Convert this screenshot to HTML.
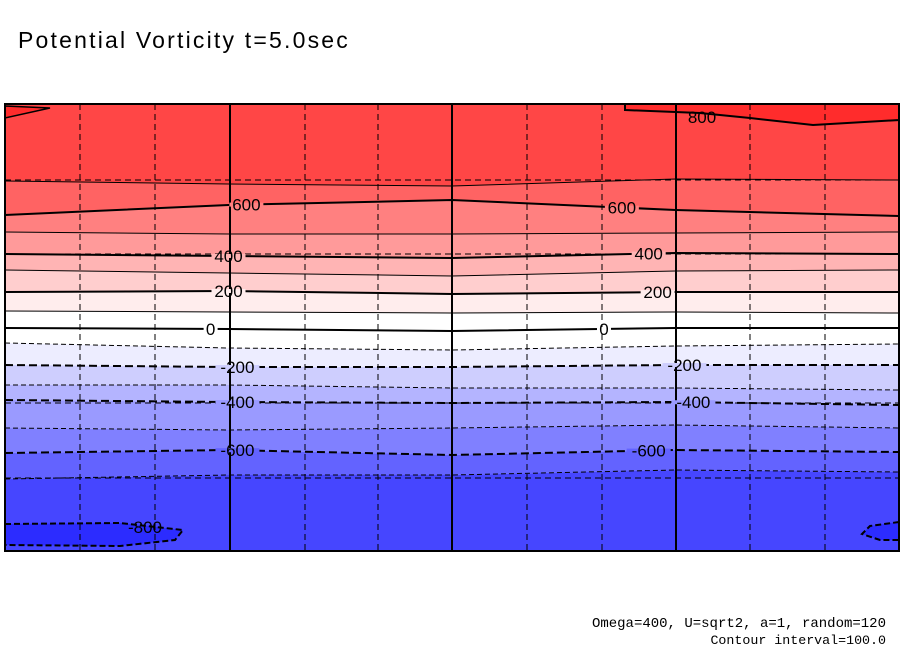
<!DOCTYPE html>
<html><head><meta charset="utf-8">
<style>
body{margin:0;background:#fff;width:904px;height:654px;overflow:hidden;font-family:"Liberation Sans",sans-serif;}
svg{position:absolute;left:0;top:0}
</style></head>
<body>
<svg id="chart" width="904" height="654">
<text x="18" y="48" font-family="Liberation Sans, sans-serif" font-size="23" letter-spacing="2.2" fill="#000">Potential Vorticity t=5.0sec</text>
<text x="886" y="627" text-anchor="end" font-family="Liberation Mono, monospace" font-size="14">Omega=400, U=sqrt2, a=1, random=120</text>
<text x="886" y="644" text-anchor="end" font-family="Liberation Mono, monospace" font-size="13.3">Contour interval=100.0</text>
</svg>
<script>
// contour levels and their y-positions (px) at sample longitudes
const levels = [700,600,500,400,300,200,100,0,-100,-200,-300,-400,-500,-600,-700];
const sampleX = [0,0.25,0.5,0.75,1];
const contourY = [
 [181,184,186,179,180],
 [215,205,200,210,216],
 [232,234,234,233,232],
 [254,256,258,253,254],
 [270,273,276,271,270],
 [292,291,294,292,292],
 [311,312,313,312,313],
 [328,329,331,328,328],
 [343,348,350,346,344],
 [365,367,367,365,365],
 [385,385,388,388,390],
 [400,402,403,402,405],
 [428,430,428,425,428],
 [453,450,455,450,452],
 [479,475,475,470,472]
];
const bandColors = ["#ff4646","#ff6363","#ff8080","#ff9a9a","#ffb4b4","#ffcece","#ffeded","#ffffff","#ffffff","#ededff","#cecefe","#b4b4ff","#9a9aff","#8080ff","#6363ff","#4646ff"];
const labelled = {600:0.27,400:0.25,200:0.25,0:0.23,"-200":0.26,"-400":0.26,"-600":0.26};
const labelled2 = {600:0.69,400:0.72,200:0.73,0:0.67,"-200":0.76,"-400":0.77,"-600":0.72};
const L=5,R=899,T=104,B=551;
const sx=f=>L+f*(R-L);
const svg=document.getElementById('chart');
const NS="http://www.w3.org/2000/svg";
function mk(t,a){const e=document.createElementNS(NS,t);for(const k in a)e.setAttribute(k,a[k]);return e;}
function pts(i){return sampleX.map((f,j)=>[sx(f),contourY[i][j]]);}
function yAt(i,f){for(let j=0;j<sampleX.length-1;j++){if(f<=sampleX[j+1]){const t=(f-sampleX[j])/(sampleX[j+1]-sampleX[j]);return contourY[i][j]+t*(contourY[i][j+1]-contourY[i][j]);}}return contourY[i][sampleX.length-1];}
const g=mk('g',{});svg.appendChild(g);
for(let b=0;b<=levels.length;b++){
  const top = b==0? sampleX.map(f=>[sx(f),T]) : pts(b-1);
  const bot = b==levels.length? sampleX.map(f=>[sx(f),B]) : pts(b);
  const poly=top.concat(bot.slice().reverse()).map(p=>p.join(',')).join(' ');
  const p=mk('polygon',{points:poly,fill:bandColors[b]});
  
  
  g.appendChild(p);
}
const r1=mk('path',{d:`M625 110 L700 113 L750 118 L813 125 L899 120 L899 104 L625 104 Z`,fill:'#ff2c2c',stroke:'#000','stroke-width':2});
g.appendChild(r1);
const r0=mk('path',{d:`M5 106 L50 108 L5 118 Z`,fill:'#ff2c2c',stroke:'#000','stroke-width':1.5});
g.appendChild(r0);
const r2=mk('path',{d:`M5 524 L120 523 L183 530 L175 540 L120 546 L5 545 Z`,fill:'#2c2cff',stroke:'#000','stroke-width':2,'stroke-dasharray':'6,3'});
g.appendChild(r2);
const r3=mk('path',{d:`M899 522 L870 526 L862 534 L880 540 L899 540 Z`,fill:'#2c2cff',stroke:'#000','stroke-width':2,'stroke-dasharray':'6,3'});
g.appendChild(r3);
[80,155,305,378,527,602,750,825].forEach(x=>{const l=mk('line',{x1:x,y1:T,x2:x,y2:B,stroke:'#000','stroke-width':1,'stroke-dasharray':'6,4'});g.appendChild(l);});
[180,254,403,478].forEach(y=>{const l=mk('line',{x1:L,y1:y,x2:R,y2:y,stroke:'#000','stroke-width':1,'stroke-dasharray':'6,4'});g.appendChild(l);});
[230,452,676].forEach(x=>{const l=mk('line',{x1:x,y1:T,x2:x,y2:B,stroke:'#000','stroke-width':2});g.appendChild(l);});
levels.forEach((lv,i)=>{
  const major = lv%200==0;
  const a={points:pts(i).map(p=>p.join(',')).join(' '),fill:'none',stroke:'#000','stroke-width':major?2:1};
  if(lv<0)a['stroke-dasharray']=major?'8,4':'5,3';
  const pl=mk('polyline',a);
  
  
  g.appendChild(pl);
  [labelled,labelled2].forEach(set=>{
    if(set[lv]!==undefined){
      const f=set[lv],x=sx(f),y=yAt(i,f);
      const txt=String(lv);
      const w=txt.length*10+4;
      const bg=mk('rect',{x:x-w/2,y:y-2,width:w,height:4,fill:bandColors[i+1]});
      g.appendChild(bg);
      const t=mk('text',{x:x,y:y+6,'text-anchor':'middle','font-size':17,'font-family':'Liberation Sans, sans-serif'});
      t.textContent=txt;
      g.appendChild(t);
    }
  });
});
[[702,117,'800'],[145,527,'-800']].forEach(d=>{const t=mk('text',{x:d[0],y:d[1]+6,'text-anchor':'middle','font-size':17,'font-family':'Liberation Sans, sans-serif'});t.textContent=d[2];g.appendChild(t);});
const fr=mk('rect',{x:L,y:T,width:R-L,height:B-T,fill:'none',stroke:'#000','stroke-width':2});
g.appendChild(fr);
</script>
</body></html>
